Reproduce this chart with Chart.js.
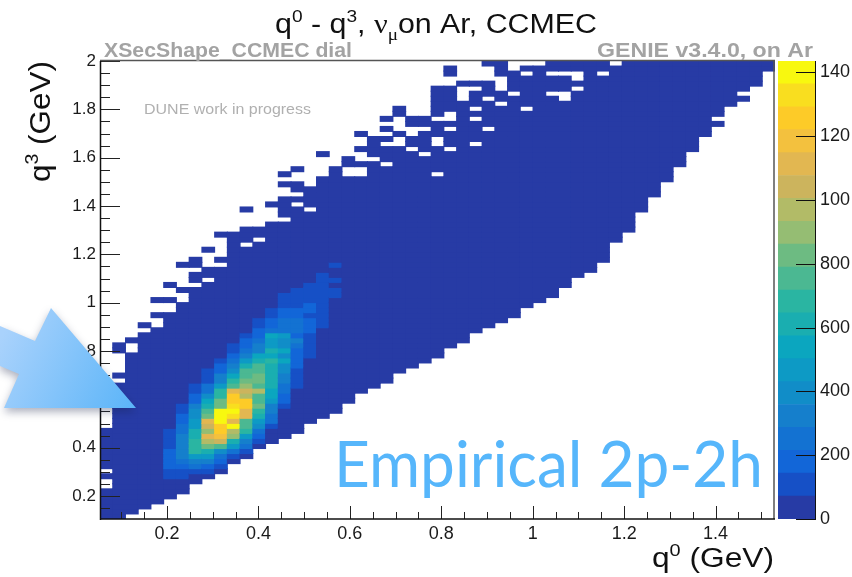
<!DOCTYPE html>
<html>
<head>
<meta charset="utf-8">
<title>q0 - q3, CCMEC</title>
<script src="https://cdn.jsdelivr.net/npm/chart.js@4"></script>
<style>
html, body { margin: 0; padding: 0; background: #fff; }
#wrap { position: relative; width: 852px; height: 577px; overflow: hidden; }
canvas { position: absolute; top: 0; }
#mainChart { left: 0; }
#barChart { left: 778px; }
</style>
</head>
<body>
<div id="wrap">
<canvas id="barChart" width="74" height="577"></canvas>
<canvas id="mainChart" width="852" height="577"></canvas>
</div>
<script>
"use strict";

// histogram binning, 53 columns of q0 and 91 rows of q3
const q0Range = [0.0535, 1.53];
const q3Range = [0.105, 2];
const columnCount = 53;
const rowCount = 91;

// first and last filled row of each q0 column
const columnBottom = [0,0,1,2,3,4,5,7,8,9,11,12,14,15,16,17,19,20,21,23,25,26,27,29,30,31,32,34,35,37,38,39,40,42,43,44,46,48,49,51,55,57,61,64,67,70,73,76,78,82,83,86,89];
const columnTop = [17,34,35,38,43,46,50,51,53,56,56,61,57,62,68,69,65,72,69,71,76,75,79,81,79,79,85,89,86,86,90,90,88,89,89,90,90,90,90,90,90,90,90,90,90,90,90,90,90,90,90,90,90];

// empty rows inside a column, picked off the white notches
const columnGaps = [
    [6,7,9], [27,29,30,31,32], [33,34], [37], [38,39,41,42], [41,42,44,45],
    [43,44,46,47,48,49], [46,49], [47,50,51,52], [50,52,53,54,55], [],
    [54,58,59,60], [55], [59,60,61], [59,64,65,67], [62,64,67,68], [61],
    [68,69,70,71], [], [68,69], [68,69,71,72,74,75], [71], [70,74,76,78],
    [74,75,77,78,79], [73,76,77], [72,77], [68,74,75,79],
    [73,77,79,80,86,87], [83,84,85], [74,79,81,85], [77,83,87,88,89],
    [82,85,86,87], [84], [81,88], [], [84,88], [83,84,88], [85,87,88], [],
    [88], [90], [], [], [], [], [], [], [], [79], [], [84], [], []
];

// colour band of the cells above band 0: column -> [start row, band, band, ...]
const peakBands = {
    5:  [8, 1,1,2,2,2,2,1,1,1,1],
    6:  [8, 1,1,2,3,4,4,4,4,4,3,3,2,2,1,1],
    7:  [9, 1,3,4,6,9,9,9,8,8,6,6,5,5,4,2,2,1,1],
    8:  [9, 1,2,4,6,8,11,13,15,12,14,15,11,10,8,7,5,3,3,1,1,1],
    9:  [10, 1,2,3,5,10,14,16,17,17,19,19,19,11,11,9,9,6,4,4,2,2,1],
    10: [12, 1,3,6,8,12,13,19,15,18,19,18,17,17,15,10,9,7,5,4,3,2,1,1],
    11: [13, 1,3,4,6,9,10,10,15,15,17,17,13,14,12,11,10,10,8,6,4,3,2,2,1],
    12: [15, 1,2,3,5,6,8,9,11,10,10,13,10,11,11,10,10,8,7,4,4,3,2,2,1,1],
    13: [18, 1,3,3,4,4,6,7,7,8,8,8,8,8,9,7,8,6,6,7,3,2,2,1,1],
    14: [22, 1,2,2,3,3,4,4,5,5,7,5,7,5,5,6,3,3,3,2,2,1,1,1],
    15: [26, 1,1,1,1,2,2,2,2,3,4,2,3,3,3,2,2,1,1,1,1],
    16: [32, 1,1,1,1,1,2,2,2,1,2,2,1,1,1,1],
    17: [38, 1,1,1,1,1,1,1,1,1,1,1],
    18: [44, 1,1,0,1,0,0,1]
};

// colour bar
const bandColors = [
    "#273ba5", "#1650c6", "#1266d8", "#1372d2", "#157fcc", "#118dc8", "#0d9ac5",
    "#0ba6bf", "#1aaeb0", "#2ab5a2", "#4bb892", "#6dbb82", "#95bd73", "#b2bb67",
    "#ccb45d", "#e2b751", "#f3c13e", "#fdcb28", "#f9de1f", "#f8f80f"
];
const zMax = 1436;
const zTickValues = [0, 200, 400, 600, 800, 1000, 1200, 1400];
// the last digit of the top three labels is cut off in the original plot
const zTickLabels = ["0", "200", "400", "600", "800", "100", "120", "140"];

const sans = '"Liberation Sans", Arial, sans-serif';
const serif = '"Liberation Serif", serif';

function bandOf(col, row) {
    const peak = peakBands[col];
    if (!peak || row < peak[0]) return 0;
    const band = peak[row - peak[0] + 1];
    return band === undefined ? 0 : band;
}

function buildCells() {
    const cells = [];
    const colors = [];
    const q0Bin = (q0Range[1] - q0Range[0]) / columnCount;
    const q3Bin = (q3Range[1] - q3Range[0]) / rowCount;
    for (let col = 0; col < columnCount; col++) {
        for (let row = columnBottom[col]; row <= columnTop[col]; row++) {
            if (columnGaps[col].includes(row)) continue;
            cells.push({
                x: q0Range[0] + (col + 0.5) * q0Bin,
                y: [q3Range[0] + row * q3Bin, q3Range[0] + (row + 1) * q3Bin]
            });
            colors.push(bandColors[bandOf(col, row)]);
        }
    }
    return { cells: cells, colors: colors };
}

// text pieces squeezed to a target width, for super and subscripts
function drawRuns(ctx, runs, x, y, width, color) {
    let total = 0;
    runs.forEach(function (run) {
        ctx.font = run.font;
        total += ctx.measureText(run.text).width;
    });
    const squeeze = width / total;
    ctx.save();
    ctx.translate(x, y);
    ctx.scale(squeeze, 1);
    ctx.fillStyle = color;
    ctx.textAlign = "left";
    ctx.textBaseline = "alphabetic";
    let pos = 0;
    runs.forEach(function (run) {
        ctx.font = run.font;
        ctx.fillText(run.text, pos, run.dy || 0);
        pos += ctx.measureText(run.text).width;
    });
    ctx.restore();
}

function isMajor(value) {
    return Math.abs(value * 5 - Math.round(value * 5)) < 1e-6;
}

function line(ctx, x1, y1, x2, y2, color, width) {
    ctx.strokeStyle = color;
    ctx.lineWidth = width;
    ctx.beginPath();
    ctx.moveTo(x1, y1);
    ctx.lineTo(x2, y2);
    ctx.stroke();
}

// ROOT style frame with the ticks pointing inwards
const framePlugin = {
    id: "frame",
    afterDatasetsDraw: function (chart) {
        const ctx = chart.ctx;
        const area = chart.chartArea;
        ctx.save();
        chart.scales.x.ticks.forEach(function (tick) {
            const px = Math.round(chart.scales.x.getPixelForValue(tick.value)) + 0.5;
            line(ctx, px, area.bottom, px, area.bottom - (isMajor(tick.value) ? 13 : 7), "#222", 1);
        });
        chart.scales.y.ticks.forEach(function (tick) {
            const py = Math.round(chart.scales.y.getPixelForValue(tick.value)) + 0.5;
            line(ctx, area.left, py, area.left + (isMajor(tick.value) ? 20 : 10), py, "#222", 1);
        });
        line(ctx, area.left, area.top - 0.5, area.right, area.top - 0.5, "#555", 1.5);
        line(ctx, area.right - 1, area.top, area.right - 1, area.bottom, "#555", 1.5);
        line(ctx, area.left + 0.5, area.top, area.left + 0.5, area.bottom + 1, "#111", 1.5);
        line(ctx, area.left, area.bottom, area.right, area.bottom, "#111", 1.5);
        ctx.restore();
    }
};

// titles, labels and the slide annotations on top of the plot
const textPlugin = {
    id: "texts",
    afterDraw: function (chart) {
        const ctx = chart.ctx;
        const big = "27px " + sans;
        const sup = "17px " + sans;

        drawRuns(ctx, [
            { text: "q", font: big },
            { text: "0", font: sup, dy: -11 },
            { text: " - q", font: big },
            { text: "3", font: sup, dy: -11 },
            { text: ", ", font: big },
            { text: "\u03bd", font: "27px " + serif },
            { text: "\u03bc", font: "17px " + serif, dy: 7 },
            { text: "on Ar, CCMEC", font: big }
        ], 275, 33, 322, "#111");

        drawRuns(ctx, [{ text: "XSecShape_CCMEC dial", font: "bold 20px " + sans }], 104, 57, 248, "#a3a3a3");
        drawRuns(ctx, [{ text: "GENIE v3.4.0, on Ar", font: "bold 20px " + sans }], 597, 57, 216, "#a3a3a3");
        drawRuns(ctx, [{ text: "DUNE work in progress", font: "14px " + sans }], 144, 114, 167, "#b0b0b0");

        drawRuns(ctx, [
            { text: "q", font: big },
            { text: "0", font: sup, dy: -11 },
            { text: " (GeV)", font: big }
        ], 652, 567, 122, "#111");

        ctx.save();
        ctx.translate(50, 182);
        ctx.rotate(-Math.PI / 2);
        drawRuns(ctx, [
            { text: "q", font: "29px " + sans },
            { text: "3", font: "18px " + sans, dy: -12 },
            { text: " (GeV)", font: "29px " + sans }
        ], 0, 0, 121, "#111");
        ctx.restore();

        drawRuns(ctx, [{ text: "Empirical 2p-2h", font: "64px Lato, " + sans }], 334, 487, 429, "#56b6fb");

        // the big arrow pasted over the axis
        ctx.save();
        const fill = ctx.createLinearGradient(0, 340, 136, 408);
        fill.addColorStop(0, "#a9d2fc");
        fill.addColorStop(1, "#5ab4f8");
        ctx.fillStyle = fill;
        ctx.shadowColor = "rgba(20, 30, 70, 0.35)";
        ctx.shadowBlur = 9;
        ctx.shadowOffsetY = 4;
        ctx.beginPath();
        ctx.moveTo(0, 326);
        ctx.lineTo(35, 341);
        ctx.lineTo(51, 308);
        ctx.lineTo(136, 408);
        ctx.lineTo(4, 408);
        ctx.lineTo(19, 374);
        ctx.lineTo(0, 366);
        ctx.closePath();
        ctx.fill();
        ctx.restore();
    }
};

const barFramePlugin = {
    id: "barFrame",
    afterDatasetsDraw: function (chart) {
        const ctx = chart.ctx;
        const area = chart.chartArea;
        ctx.save();
        zTickValues.forEach(function (value) {
            const py = Math.round(chart.scales.y.getPixelForValue(value)) + 0.5;
            line(ctx, area.right - 20, py, area.right, py, "#111", 1);
        });
        line(ctx, area.right - 0.5, area.top, area.right - 0.5, area.bottom, "#111", 1);
        ctx.restore();
    }
};

function axisLabel(value) {
    return isMajor(value) ? String(Number(value.toFixed(1))) : "";
}

function drawMainChart() {
    const built = buildCells();
    const plotWidth = 675;
    new Chart(document.getElementById("mainChart"), {
        type: "bar",
        data: {
            datasets: [{
                data: built.cells,
                backgroundColor: built.colors,
                borderWidth: 0,
                inflateAmount: 0.5, // hides the seams between neighbouring cells
                barThickness: plotWidth / columnCount,
                grouped: false
            }]
        },
        options: {
            responsive: false,
            animation: false,
            layout: { padding: { top: 61, right: 77, left: 0, bottom: 0 } },
            plugins: { legend: { display: false }, tooltip: { enabled: false } },
            scales: {
                x: {
                    type: "linear",
                    offset: false,
                    min: q0Range[0],
                    max: q0Range[1],
                    grid: { display: false, drawTicks: false },
                    border: { display: false },
                    afterFit: function (scale) { scale.height = 58; },
                    ticks: {
                        stepSize: 0.05,
                        includeBounds: false,
                        autoSkip: false,
                        maxRotation: 0,
                        padding: 4,
                        color: "#1a1a1a",
                        font: { family: "Liberation Sans", size: 18 },
                        callback: axisLabel
                    }
                },
                y: {
                    min: q3Range[0],
                    max: q3Range[1],
                    grid: { display: false, drawTicks: false },
                    border: { display: false },
                    afterFit: function (scale) { scale.width = 100; },
                    ticks: {
                        stepSize: 0.05,
                        includeBounds: false,
                        autoSkip: false,
                        padding: 4,
                        color: "#1a1a1a",
                        font: { family: "Liberation Sans", size: 17 },
                        callback: axisLabel
                    }
                }
            }
        },
        plugins: [framePlugin, textPlugin]
    });
}

function drawColorBar() {
    const bandSize = zMax / bandColors.length;
    new Chart(document.getElementById("barChart"), {
        type: "bar",
        data: {
            labels: [""],
            datasets: bandColors.map(function (color, i) {
                return {
                    data: [[i * bandSize, (i + 1) * bandSize]],
                    backgroundColor: color,
                    borderWidth: 0,
                    barPercentage: 1,
                    categoryPercentage: 1,
                    grouped: false
                };
            })
        },
        options: {
            responsive: false,
            animation: false,
            layout: { padding: { top: 61, right: 0, left: 0, bottom: 58 } },
            plugins: { legend: { display: false }, tooltip: { enabled: false } },
            scales: {
                x: { display: false },
                y: {
                    position: "right",
                    min: 0,
                    max: zMax,
                    grid: { display: false, drawTicks: false },
                    border: { display: false },
                    afterFit: function (scale) { scale.width = 36; },
                    afterBuildTicks: function (scale) {
                        scale.ticks = zTickValues.map(function (value) {
                            return { value: value };
                        });
                    },
                    ticks: {
                        autoSkip: false,
                        padding: 4,
                        color: "#1a1a1a",
                        font: { family: "Liberation Sans", size: 18 },
                        callback: function (value, index) {
                            return zTickLabels[index];
                        }
                    }
                }
            }
        },
        plugins: [barFramePlugin]
    });
}

drawMainChart();
drawColorBar();
</script>
</body>
</html>
